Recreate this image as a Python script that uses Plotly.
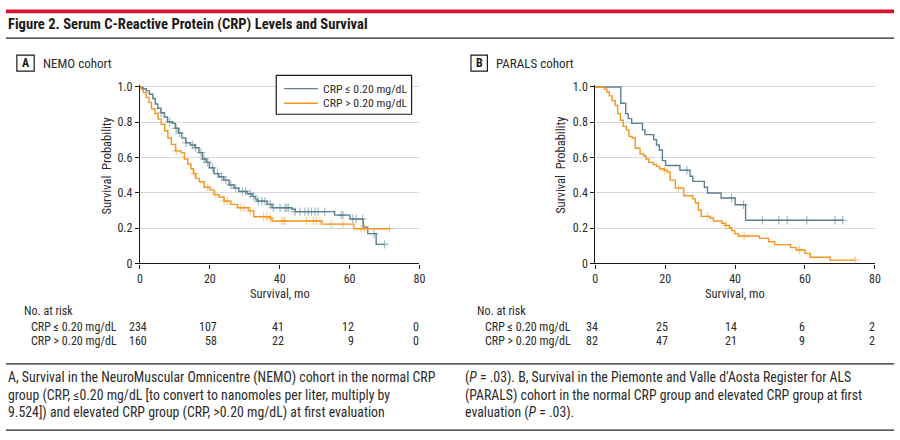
import plotly.graph_objects as go

# ---------------- data ----------------
nemo_low_t = [0, 0.5, 0.9, 1.8, 2.7, 3.7, 4.4, 5.1, 6.0, 7.0, 7.9, 9.3, 10.1, 11.0, 12.0, 13.1, 14.5,
              15.8, 16.9, 17.9, 19.0, 19.9, 21.2, 22.6, 24.0, 25.5, 26.9, 28.3, 30.7, 32.1, 33.0,
              33.5, 36.4, 37.8, 43.5, 44.4, 55.7, 60.1, 63.9, 65.2, 67.6, 70.0]
nemo_low_s = [1.0, 0.996, 0.99, 0.978, 0.959, 0.935, 0.904, 0.88, 0.854, 0.83, 0.803, 0.794, 0.766,
              0.739, 0.711, 0.684, 0.671, 0.656, 0.628, 0.592, 0.573, 0.542, 0.509, 0.491, 0.472,
              0.445, 0.427, 0.408, 0.395, 0.38, 0.366, 0.353, 0.335, 0.316, 0.307, 0.294, 0.274,
              0.252, 0.206, 0.169, 0.108, 0.108]
nemo_low_cens = [6.1, 8.5, 10.4, 11.3, 13.2, 15.1, 15.9, 17.5, 18.4, 19.4, 20.8, 22.2, 23.4, 24.6,
                 26.0, 27.4, 29.3, 30.2, 31.6, 32.5, 33.9, 34.9, 35.8, 37.3, 38.2, 40.1, 41.5, 42.0,
                 42.5, 44.4, 45.8, 47.2, 48.2, 49.1, 50.1, 51.0, 52.9, 57.6, 58.1, 60.9, 61.9, 63.7,
                 67.0, 70.0]

nemo_high_t = [0, 0.4, 1.0, 1.8, 2.6, 3.3, 4.3, 5.2, 6.1, 7.1, 8.0, 9.0, 10.2, 11.8, 12.7, 13.7,
               14.6, 15.3, 16.0, 17.0, 18.4, 20.0, 21.2, 22.6, 24.1, 26.0, 27.9, 31.2, 32.6, 37.3,
               37.8, 52.0, 61.2, 71.5]
nemo_high_s = [1.0, 0.985, 0.968, 0.941, 0.913, 0.877, 0.849, 0.818, 0.788, 0.752, 0.711, 0.675,
               0.638, 0.628, 0.592, 0.564, 0.537, 0.509, 0.482, 0.463, 0.432, 0.417, 0.39, 0.377,
               0.353, 0.335, 0.316, 0.298, 0.265, 0.256, 0.241, 0.223, 0.197, 0.197]
nemo_high_cens = [10.4, 15.6, 19.4, 21.7, 24.1, 25.0, 28.8, 29.7, 31.6, 35.4, 36.3, 37.3, 40.6,
                  41.1, 41.5, 47.7, 49.6, 50.5, 51.5, 54.8, 58.1, 63.3, 64.3, 71.4]

parals_low_t = [0, 7.3, 8.7, 9.4, 10.4, 13.5, 14.2, 16.7, 17.5, 18.3, 19.2, 20.1, 24.2, 27.1, 27.9,
                31.2, 32.1, 36.0, 40.0, 43.0, 71.0]
parals_low_s = [1.0, 0.908, 0.849, 0.821, 0.794, 0.757, 0.73, 0.702, 0.671, 0.643, 0.583, 0.555,
                0.528, 0.494, 0.465, 0.432, 0.399, 0.371, 0.333, 0.245, 0.245]
parals_low_cens = [26.2, 39.0, 42.4, 47.8, 52.5, 54.9, 60.5, 68.6, 70.8]

parals_high_t = [0, 2.5, 3.3, 4.0, 4.8, 5.7, 6.4, 7.2, 8.0, 8.9, 9.6, 10.5, 11.4, 12.8, 13.8, 14.5,
                 15.3, 16.6, 17.5, 18.4, 19.8, 20.5, 21.4, 22.9, 25.3, 27.9, 28.6, 29.5, 30.3,
                 32.8, 33.8, 36.2, 37.1, 38.3, 39.0, 39.9, 40.9, 47.0, 49.6, 51.3, 55.9, 57.5,
                 60.0, 61.5, 67.2, 74.4]
parals_high_s = [1.0, 0.988, 0.972, 0.95, 0.923, 0.895, 0.849, 0.812, 0.777, 0.757, 0.72, 0.711,
                 0.653, 0.62, 0.61, 0.592, 0.573, 0.561, 0.55, 0.537, 0.528, 0.518, 0.472, 0.427,
                 0.384, 0.366, 0.344, 0.303, 0.267, 0.256, 0.241, 0.228, 0.215, 0.202, 0.186,
                 0.169, 0.156, 0.142, 0.123, 0.107, 0.09, 0.076, 0.057, 0.035, 0.019, 0.019]
parals_high_cens = [19.8, 23.8, 32.1, 37.5, 42.6, 58.4, 74.4]

risk_times = [0, 20, 40, 60, 80]
nemo_risk_low = [234, 107, 41, 12, 0]
nemo_risk_high = [160, 58, 22, 9, 0]
parals_risk_low = [34, 25, 14, 6, 2]
parals_risk_high = [82, 47, 21, 9, 2]

group_labels = ["CRP ≤ 0.20 mg/dL", "CRP > 0.20 mg/dL"]
y_ticks = [0, 0.2, 0.4, 0.6, 0.8, 1.0]
y_ticktext = ["0", "0.2", "0.4", "0.6", "0.8", "1.0"]
x_ticks = [0, 20, 40, 60, 80]

# ---------------- styling ----------------
W, H = 900, 440
FONT = "Liberation Sans Narrow, Arial Narrow, Roboto Condensed, sans-serif"
BLUE = "#5b8090"
ORANGE = "#f7941d"
BLUE_C = "rgba(91,128,144,0.55)"
ORANGE_C = "rgba(247,148,29,0.45)"
TXT = "#2b2b2b"


def px(x):
    return x / W


def py(y):
    return 1 - y / H


def step_at(ts, ss, t):
    v = ss[0]
    for ti, si in zip(ts, ss):
        if ti <= t:
            v = si
    return v


fig = go.Figure()

panels = [
    ("x", "y", nemo_low_t, nemo_low_s, nemo_low_cens, nemo_high_t, nemo_high_s, nemo_high_cens),
    ("x2", "y2", parals_low_t, parals_low_s, parals_low_cens, parals_high_t, parals_high_s, parals_high_cens),
]
for xa, ya, lt, ls, lc, ht, hs, hc in panels:
    for ts, ss, cs, col, ccol, name in [(lt, ls, lc, BLUE, BLUE_C, group_labels[0]),
                                        (ht, hs, hc, ORANGE, ORANGE_C, group_labels[1])]:
        fig.add_trace(go.Scatter(x=ts, y=ss, mode="lines", line=dict(color=col, width=1.4, shape="hv"),
                                 name=name, showlegend=False, xaxis=xa, yaxis=ya))
        fig.add_trace(go.Scatter(x=cs, y=[step_at(ts, ss, c) for c in cs], mode="markers",
                                 marker=dict(symbol="cross-thin-open", size=6, color=ccol,
                                             line=dict(color=ccol, width=1.2)),
                                 showlegend=False, xaxis=xa, yaxis=ya, cliponaxis=False))

# axes geometry (pixels)
xA = (138.3, 420.7)
xB = (598.3, 880.7)
y0px, y1px = 265.7, 84.3
ytop = 1.01
ytop_px = y0px - (y0px - y1px) * ytop
ydom = [py(y0px), py(ytop_px)]

axis_common = dict(showline=True, linecolor="#1a1a1a", linewidth=1.2, ticks="outside", ticklen=4,
                   tickcolor="#1a1a1a", tickfont=dict(family=FONT, size=12, color=TXT), zeroline=False)
fig.update_layout(
    xaxis=dict(domain=[px(xA[0]), px(xA[1])], range=[0, 80], tickvals=x_ticks, showgrid=False,
               anchor="y", **axis_common),
    yaxis=dict(domain=ydom, range=[0, ytop], tickvals=y_ticks, ticktext=y_ticktext, showgrid=True,
               gridcolor="#d9d9d9", gridwidth=1, anchor="x", **axis_common),
    xaxis2=dict(domain=[px(xB[0]), px(xB[1])], range=[0, 80], tickvals=x_ticks, showgrid=False,
                anchor="y2", **axis_common),
    yaxis2=dict(domain=ydom, range=[0, ytop], tickvals=y_ticks, ticktext=y_ticktext, showgrid=True,
                gridcolor="#d9d9d9", gridwidth=1, anchor="x2", **axis_common),
)

shapes = []
ann = []
# top red bar and rules
shapes.append(dict(type="rect", xref="paper", yref="paper", x0=px(3), x1=px(900), y0=py(4.5), y1=py(8.5),
                   fillcolor="#d5152f", line=dict(width=0)))
shapes.append(dict(type="line", xref="paper", yref="paper", x0=px(3), x1=px(900), y0=py(34), y1=py(34),
                   line=dict(color="#222", width=1.2)))
shapes.append(dict(type="line", xref="paper", yref="paper", x0=px(3), x1=px(900), y0=py(369), y1=py(369),
                   line=dict(color="#222", width=1.2)))
shapes.append(dict(type="line", xref="paper", yref="paper", x0=px(3), x1=px(900), y0=py(437), y1=py(437),
                   line=dict(color="#222", width=1.2)))

ann.append(dict(text="<b>Figure 2. Serum C-Reactive Protein (CRP) Levels and Survival</b>", x=px(3), y=py(20),
                xref="paper", yref="paper", xanchor="left", yanchor="middle", showarrow=False,
                font=dict(family=FONT, size=14.6, color="#1a1a1a")))

# legend (panel A)
shapes.append(dict(type="rect", xref="paper", yref="paper", x0=px(276), x1=px(412.7), y0=py(112.3),
                   y1=py(72.3), line=dict(color="#1a1a1a", width=1.2), fillcolor="white"))
for lab, col, ly in [(group_labels[0], BLUE, 86), (group_labels[1], ORANGE, 101)]:
    shapes.append(dict(type="line", xref="paper", yref="paper", x0=px(284), x1=px(318), y0=py(ly), y1=py(ly),
                       line=dict(color=col, width=1.4)))
    ann.append(dict(text=lab, x=px(321.5), y=py(ly), xref="paper", yref="paper", xanchor="left",
                    yanchor="middle", showarrow=False, font=dict(family=FONT, size=11.8, color=TXT)))

# panel labels
for bx0, bx1, letter, label, tx in [(14, 31.5, "A", "NEMO cohort", 38), (472.7, 489.3, "B", "PARALS cohort", 496)]:
    shapes.append(dict(type="rect", xref="paper", yref="paper", x0=px(bx0), x1=px(bx1), y0=py(68), y1=py(51.5),
                       line=dict(color="#1a1a1a", width=1.2), fillcolor="white"))
    ann.append(dict(text=f"<b>{letter}</b>", x=px((bx0 + bx1) / 2), y=py(60), xref="paper", yref="paper",
                    xanchor="center", yanchor="middle", showarrow=False,
                    font=dict(family=FONT, size=12, color="#1a1a1a")))
    ann.append(dict(text=label, x=px(tx), y=py(60), xref="paper", yref="paper", xanchor="left",
                    yanchor="middle", showarrow=False, font=dict(family=FONT, size=13, color=TXT)))

# axis titles
for yx, (xa0, xa1), xref in [(105, xA, "x"), (563, xB, "x2")]:
    ann.append(dict(text="Survival  Probability", x=px(yx), y=py(165), xref="paper", yref="paper",
                    textangle=-90, xanchor="center", yanchor="middle", showarrow=False,
                    font=dict(family=FONT, size=12.5, color=TXT)))
    ann.append(dict(text="Survival, mo", x=px((xa0 + xa1) / 2), y=py(296.5), xref="paper", yref="paper",
                    xanchor="center", yanchor="middle", showarrow=False,
                    font=dict(family=FONT, size=12.5, color=TXT)))

# numbers at risk
for xref, lx, rl, rh, shifts in [("x", 19, nemo_risk_low, nemo_risk_high, [9, 9, 6, 6, 2]),
                                  ("x2", 477, parals_risk_low, parals_risk_high, [5, 5, 4, 2, 2])]:
    ann.append(dict(text="No. at risk", x=px(lx), y=py(315), xref="paper", yref="paper", xanchor="left",
                    yanchor="middle", showarrow=False, font=dict(family=FONT, size=12, color=TXT)))
    for gi, (lab, vals, yy) in enumerate([(group_labels[0], rl, 331.5), (group_labels[1], rh, 345.5)]):
        ann.append(dict(text=lab, x=px(lx + 7.5), y=py(yy), xref="paper", yref="paper", xanchor="left",
                        yanchor="middle", showarrow=False, font=dict(family=FONT, size=12, color=TXT)))
        for t, v, s in zip(risk_times, vals, shifts):
            ann.append(dict(text=str(v), x=t, y=py(yy), xref=xref, yref="paper", xanchor="right", xshift=s,
                            yanchor="middle", showarrow=False, font=dict(family=FONT, size=12, color=TXT)))

# caption
cap_left = ["A, Survival in the NeuroMuscular Omnicentre (NEMO) cohort in the normal CRP",
            "group (CRP, ≤0.20 mg/dL [to convert to nanomoles per liter, multiply by",
            "9.524]) and elevated CRP group (CRP, >0.20 mg/dL) at first evaluation"]
cap_right = ["(<i>P</i> = .03). B, Survival in the Piemonte and Valle d’Aosta Register for ALS",
             "(PARALS) cohort in the normal CRP group and elevated CRP group at first",
             "evaluation (<i>P</i> = .03)."]
for col_x, lines in [(3, cap_left), (465, cap_right)]:
    for i, line in enumerate(lines):
        ann.append(dict(text=line, x=px(col_x), y=py(383 + 18 * i), xref="paper", yref="paper",
                        xanchor="left", yanchor="middle", showarrow=False,
                        font=dict(family=FONT, size=13.8, color=TXT)))

fig.update_layout(
    width=W, height=H, margin=dict(l=0, r=0, t=0, b=0), paper_bgcolor="white", plot_bgcolor="white",
    shapes=shapes, annotations=ann, showlegend=False,
)

fig.write_html("out.html")
